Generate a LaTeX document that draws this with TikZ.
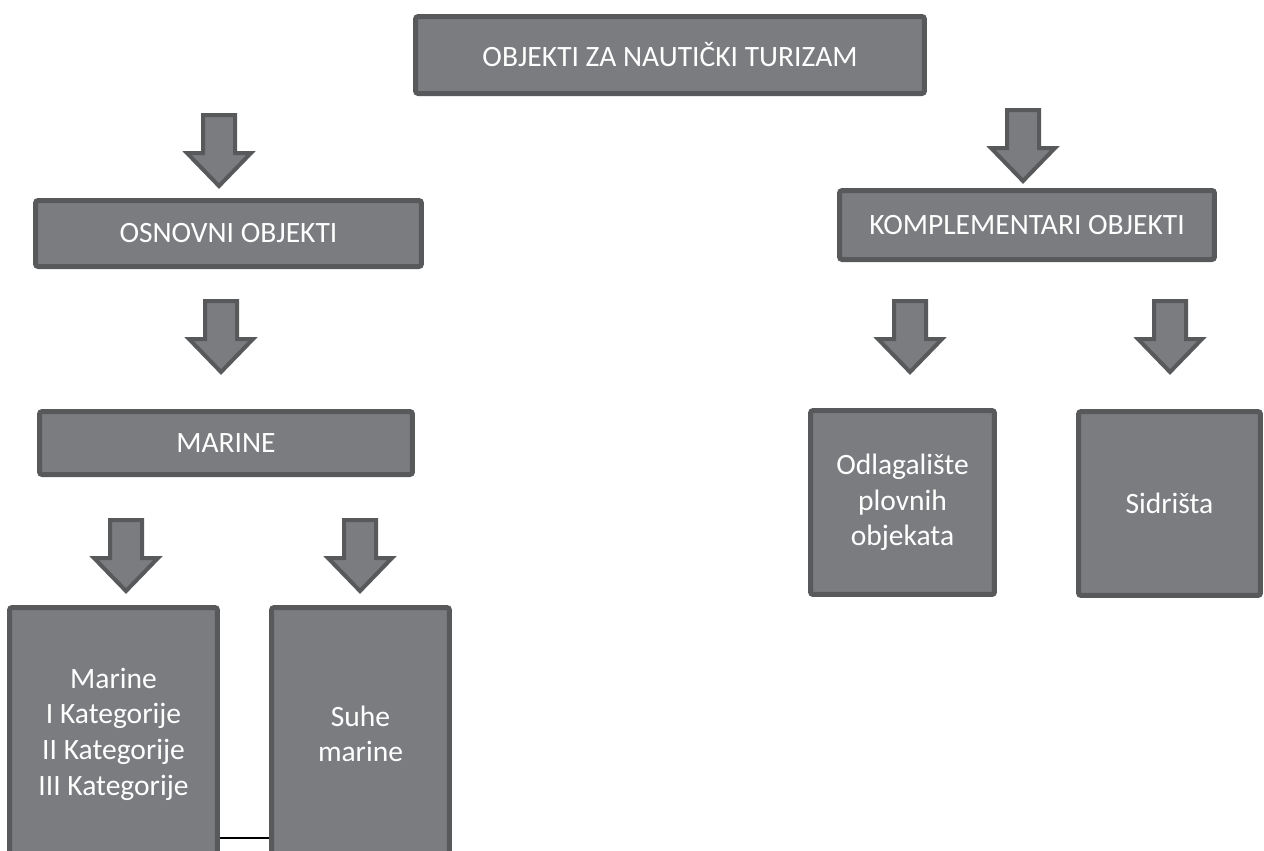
\documentclass[tikz,border=0pt]{standalone}
\usepackage{fontspec}
\setmainfont{Carlito}
\usepackage{tikz}
\definecolor{boxgray}{RGB}{123,124,128}
\definecolor{edgegray}{RGB}{88,89,91}

\begin{document}
\begin{tikzpicture}[x=0.02cm, y=-0.02cm,
    blok/.style={draw=edgegray, fill=boxgray, line width=0.1cm, rounded corners=1.5pt,
        text=white, align=center, inner sep=0pt, font=\fontsize{16.8}{20.3}\selectfont},
    strelica/.style={draw=edgegray, fill=boxgray, line width=0.08cm, line join=miter}]
    \useasboundingbox (0,0) rectangle (1264,850);
    \clip (0,0) rectangle (1264,850);

    % Top level
    \node[blok, minimum width=10.18cm, minimum height=1.54cm] (turizam) at (670,55) {OBJEKTI ZA NAUTIČKI TURIZAM};

    % Left branch
    \node[blok, minimum width=7.72cm, minimum height=1.32cm] (osnovni) at (228.5,233.5) {OSNOVNI OBJEKTI};
    \node[blok, minimum width=7.46cm, minimum height=1.26cm] (marine) at (226,443) {MARINE};
    \node[blok, minimum width=4.16cm, minimum height=5.06cm] (kategorije) at (113.5,734) {Marine\\I Kategorije\\II Kategorije\\III Kategorije};
    \node[blok, minimum width=3.56cm, minimum height=5.06cm] (suhe) at (360.5,734) {Suhe\\marine};

    % Right branch
    \node[blok, minimum width=7.5cm, minimum height=1.38cm] (komplementari) at (1027,225) {KOMPLEMENTARI OBJEKTI};
    \node[blok, minimum width=3.68cm, minimum height=3.68cm] (odlagaliste) at (902.5,502.5) {Odlagalište\\plovnih\\objekata};
    \node[blok, minimum width=3.64cm, minimum height=3.68cm] (sidrista) at (1169.5,503.5) {Sidrišta};

    % Block arrows
    \foreach \ax/\ay in {219/113, 221/299, 126/518, 360/518, 1023/108, 910/299, 1170/299} {
        \draw[strelica] (\ax-16,\ay+2) -- (\ax+16,\ay+2) -- (\ax+16,\ay+40) -- (\ax+32,\ay+40)
            -- (\ax,\ay+73) -- (\ax-32,\ay+40) -- (\ax-16,\ay+40) -- cycle;
    }

    % Link between the bottom boxes
    \draw[line width=0.04cm] (kategorije.east |- 0,838) -- (suhe.west |- 0,838);
\end{tikzpicture}
\end{document}
